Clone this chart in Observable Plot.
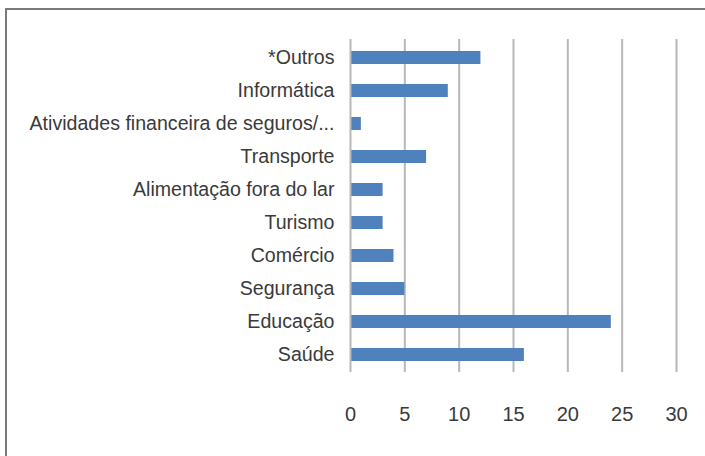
<!DOCTYPE html>
<html>
<head>
<meta charset="utf-8">
<script src="https://cdn.jsdelivr.net/npm/d3@7"></script>
<script src="https://cdn.jsdelivr.net/npm/@observablehq/plot@0.6"></script>
<style>
  html, body { margin: 0; padding: 0; background: #fff; }
  #wrap { position: relative; width: 705px; height: 456px; overflow: hidden; }
  #frame { position: absolute; left: 5px; top: 8px; width: 720px; height: 470px;
           border-top: 2px solid #7a7a7a; border-left: 2px solid #7a7a7a; pointer-events: none; }
  svg { display: block; }
</style>
</head>
<body>
<div id="wrap"><div id="frame"></div></div>
<script>
const categories = ["*Outros", "Informática", "Atividades financeira de seguros/...", "Transporte",
  "Alimentação fora do lar", "Turismo", "Comércio", "Segurança", "Educação", "Saúde"];
const values = [12, 9, 1, 7, 3, 3, 4, 5, 24, 16];
const xTicks = [0, 5, 10, 15, 20, 25, 30];

const data = categories.map((c, i) => ({category: c, value: values[i]}));

const chart = Plot.plot({
  width: 705,
  height: 456,
  marginLeft: 350,
  marginRight: 29,
  marginTop: 39,
  marginBottom: 84,
  style: {fontFamily: "'Liberation Sans', Arial, sans-serif", fontSize: "19px", color: "#3a3a3a"},
  x: {domain: [0, 30], ticks: xTicks, label: null},
  y: {domain: categories, paddingInner: 0.62, paddingOuter: 0.31, label: null},
  marks: [
    Plot.gridX(xTicks.filter(d => d > 0), {stroke: "#b8b8b8", strokeWidth: 2, strokeOpacity: 1}),
    Plot.barX(data, {x: "value", y: "category", fill: "#4f81bd"}),
    Plot.ruleX([0], {stroke: "#b8b8b8", strokeWidth: 2}),
    Plot.ruleY([0], {frameAnchor: "bottom", stroke: "#b8b8b8", strokeWidth: 2}),
    Plot.axisX({ticks: xTicks, tickSize: 0, tickPadding: 34, label: null, fontSize: 20}),
    Plot.axisY({tickSize: 0, tickPadding: 16, label: null, fontSize: 19.6})
  ]
});
document.getElementById("wrap").prepend(chart);
</script>
</body>
</html>
